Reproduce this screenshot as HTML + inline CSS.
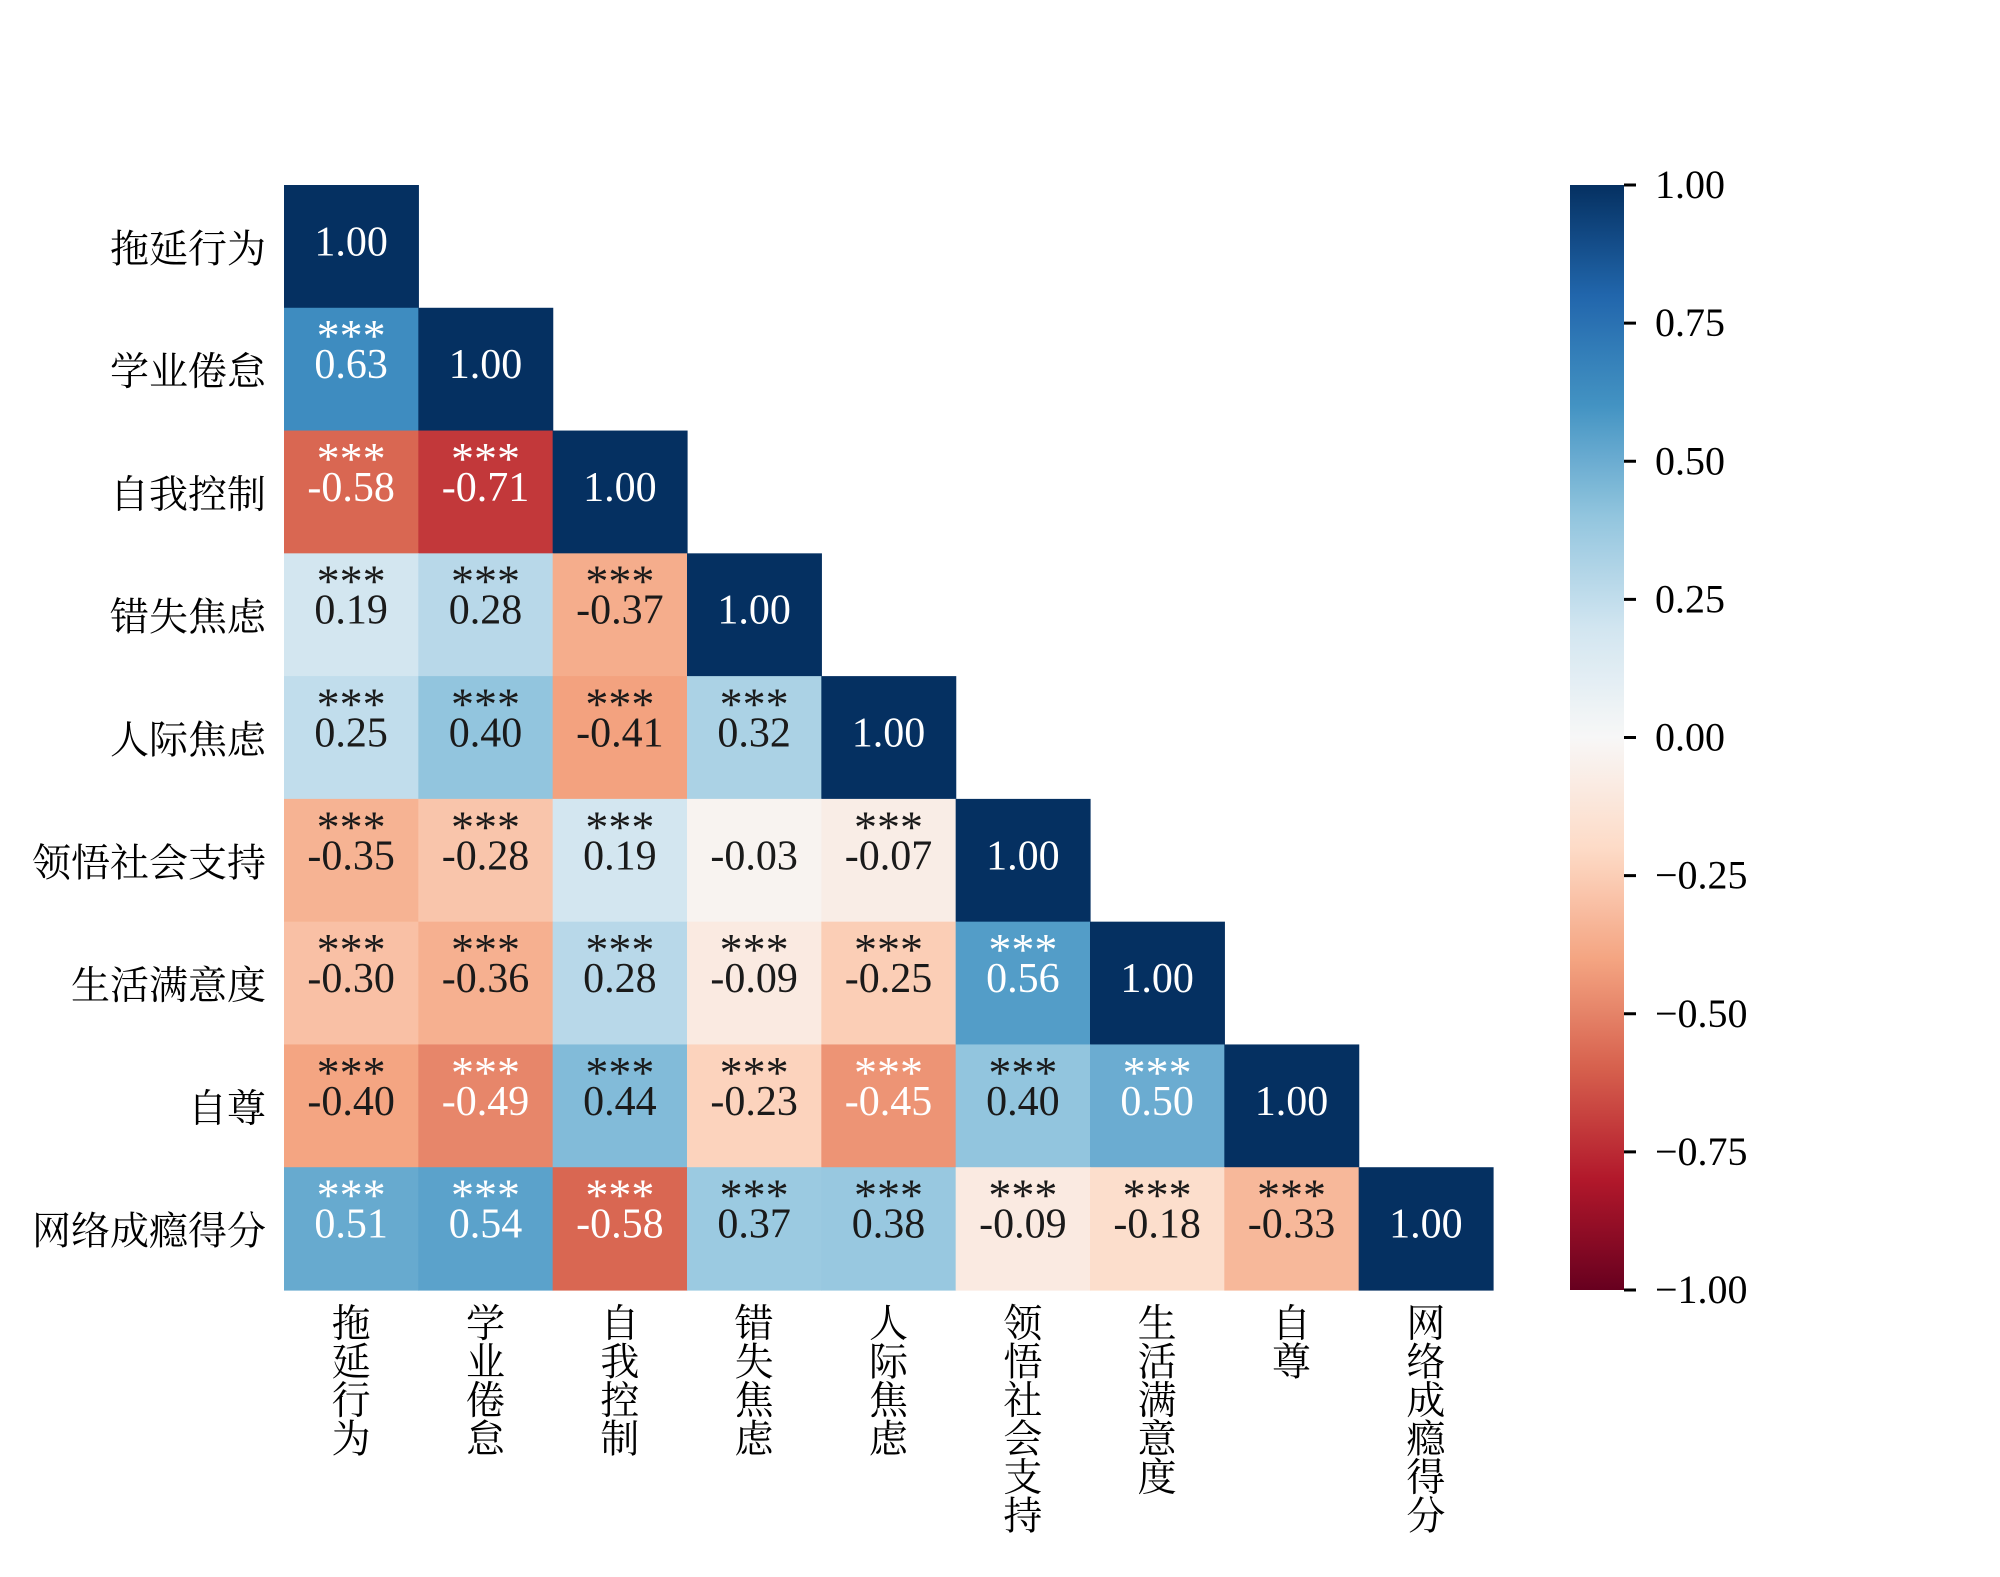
<!DOCTYPE html>
<html><head><meta charset="utf-8">
<style>
html,body{margin:0;padding:0;background:#fff;}
svg{display:block;}
text{font-family:"Liberation Serif","Noto Serif CJK SC","Noto Sans CJK SC",serif;}
</style></head>
<body>
<svg id="chart" width="2000" height="1577" viewBox="0 0 2000 1577" xmlns="http://www.w3.org/2000/svg">
<rect width="2000" height="1577" fill="#fff"/>
<g id="cells"></g>
<g id="ylabels"></g>
<g id="xlabels"></g>
<g id="colorbar"></g>
</svg>
<script>
const categories = ["拖延行为","学业倦怠","自我控制","错失焦虑","人际焦虑","领悟社会支持","生活满意度","自尊","网络成瘾得分"];
const row0 = [1.00];
const row1 = [0.63,1.00];
const row2 = [-0.58,-0.71,1.00];
const row3 = [0.19,0.28,-0.37,1.00];
const row4 = [0.25,0.40,-0.41,0.32,1.00];
const row5 = [-0.35,-0.28,0.19,-0.03,-0.07,1.00];
const row6 = [-0.30,-0.36,0.28,-0.09,-0.25,0.56,1.00];
const row7 = [-0.40,-0.49,0.44,-0.23,-0.45,0.40,0.50,1.00];
const row8 = [0.51,0.54,-0.58,0.37,0.38,-0.09,-0.18,-0.33,1.00];
const sig5 = [1,1,1,0,1];
const colorbarTicks = [1.00,0.75,0.50,0.25,0.00,-0.25,-0.50,-0.75,-1.00];
const rows = [row0,row1,row2,row3,row4,row5,row6,row7,row8];

const NS="http://www.w3.org/2000/svg";
const L=284, R=1493, T=185, B=1290;
const n=categories.length;
const cw=(R-L)/n, ch=(B-T)/n;
const xPos=j=>L+j*cw, yPos=i=>T+i*ch;
const stops=["#67001f","#b2182b","#d6604d","#f4a582","#fddbc7","#f7f7f7","#d1e5f0","#92c5de","#4393c3","#2166ac","#053061"];
function hex(h){return [1,3,5].map(k=>parseInt(h.substr(k,2),16));}
function cmap(v){
  let t=(v+1)/2*(stops.length-1); t=Math.max(0,Math.min(stops.length-1,t));
  const i=Math.min(Math.floor(t),stops.length-2), f=t-i;
  const a=hex(stops[i]), b=hex(stops[i+1]);
  return a.map((c,k)=>Math.round(c+(b[k]-c)*f));
}
function lum(c){const l=c.map(x=>{x/=255;return x<=0.03928?x/12.92:Math.pow((x+0.055)/1.055,2.4);});return 0.2126*l[0]+0.7152*l[1]+0.0722*l[2];}
function mk(tag,attrs,parent){const e=document.createElementNS(NS,tag);for(const k in attrs)e.setAttribute(k,attrs[k]);parent.appendChild(e);return e;}

const gc=document.getElementById('cells');
rows.forEach((row,i)=>{
  row.forEach((v,j)=>{
    const c=cmap(v);
    const r=mk('rect',{x:xPos(j),y:yPos(i),width:cw+0.6,height:ch+0.6,fill:`rgb(${c.join(',')})`},gc);
    
    
    const tc=lum(c)>0.408?"#1a1a1a":"#ffffff";
    const cx=xPos(j)+cw/2, cy=yPos(i)+ch/2;
    const t=mk('text',{x:cx,y:cy+9,'font-size':42,'text-anchor':'middle',fill:tc},gc);
    t.textContent=v.toFixed(2);
    
    
    let star = i!==j;
    if(i===5) star = j!==5 && sig5[j]===1;
    if(star){
      const s=mk('text',{x:cx,y:cy-18,'font-size':46,'text-anchor':'middle',fill:tc},gc);
      s.textContent='***';
      
      
    }
  });
});
const gy=document.getElementById('ylabels');
categories.forEach((c,i)=>{
  const t=mk('text',{x:266,y:yPos(i)+ch/2+16,'font-size':39,'text-anchor':'end',fill:'#000'},gy);
  t.textContent=c;
  
  
});
const gx=document.getElementById('xlabels');
categories.forEach((c,j)=>{
  const t=mk('text',{x:xPos(j)+cw/2,y:1337,'font-size':39,'text-anchor':'middle',fill:'#000'},gx);
  
  
  [...c].forEach((ch2,k)=>{const s=mk('tspan',{x:xPos(j)+cw/2,y:1337+k*38.5},t);s.textContent=ch2;});
});
// colorbar
const gb=document.getElementById('colorbar');
const CL=1570, CR=1624;
const defs=mk('defs',{},gb);
const lg=mk('linearGradient',{id:'cg',x1:0,y1:0,x2:0,y2:1},defs);
for(let k=0;k<=40;k++){const v=1-2*k/40;mk('stop',{offset:k/40,'stop-color':`rgb(${cmap(v).join(',')})`},lg);}
const cb=mk('rect',{x:CL,y:T,width:CR-CL,height:B-T,fill:'url(#cg)'},gb);


const cy=v=>T+(1-v)/2*(B-T);
colorbarTicks.forEach(v=>{
  const ln=mk('line',{x1:CR,x2:CR+12,y1:cy(v),y2:cy(v),stroke:'#000','stroke-width':3},gb);
  
  
  const t=mk('text',{x:1655,y:cy(v)+13,'font-size':40,fill:'#000'},gb);
  t.textContent=(v<0?'\u2212':'')+Math.abs(v).toFixed(2);
  
  
});
</script>
</body></html>
